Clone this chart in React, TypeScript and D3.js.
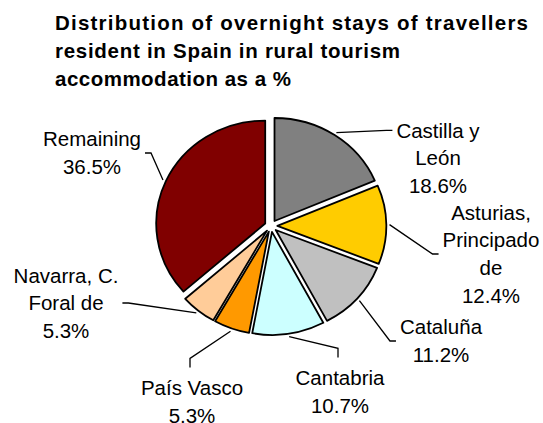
import React, { useEffect, useRef } from 'react';
import * as d3 from 'd3';

/* ── data ── */
const regions = ['Castilla y León', 'Asturias, Principado de', 'Cataluña', 'Cantabria', 'País Vasco', 'Navarra, C. Foral de', 'Remaining'];
const shares = [18.6, 12.4, 11.2, 10.7, 5.3, 5.3, 36.5];
const colours = ['#808080', '#FFCC00', '#C0C0C0', '#CCFFFF', '#FF9900', '#FFCC99', '#800000'];
const labelLines = [
  ['Castilla y', 'León'],
  ['Asturias,', 'Principado', 'de'],
  ['Cataluña'],
  ['Cantabria'],
  ['País Vasco'],
  ['Navarra, C.', 'Foral de'],
  ['Remaining'],
];
const titleLines = [
  'Distribution of overnight stays of travellers',
  'resident in Spain in rural tourism',
  'accommodation as a %',
];

/* ── layout (label block centres, side the leader enters from) ── */
const labelLayout = [
  { x: 438, y: 158, side: 'left', line: 0 },
  { x: 491, y: 254, side: 'left', line: -1 },
  { x: 441, y: 341, side: 'left', line: -1 },
  { x: 340, y: 392, side: 'top', line: -1 },
  { x: 192, y: 402, side: 'top', line: -1 },
  { x: 66, y: 303, side: 'right', line: -1 },
  { x: 92, y: 153, side: 'right', line: -1 },
];
const titleWidths = [473, 345, 236];

const W = 543, H = 423;
const CX = 271, CY = 226, RY = 103, RX = 109;
const EXPLODE = 6;
const FONT = '"Liberation Sans", Arial, Helvetica, sans-serif';
const FS = 20.5, LH = 27.6;

export default function App() {
  const ref = useRef<SVGSVGElement>(null);

  useEffect(() => {
    const svg = d3.select(ref.current);
    svg.selectAll('*').remove();

    /* title */
    const title = svg.append('g');
    titleLines.forEach((t, i) => {
      title.append('text')
        .attr('x', 55)
        .attr('y', 30 + i * 27.8)
        .attr('font-family', FONT)
        .attr('font-size', 20.5)
        .attr('font-weight', 700)
        .attr('textLength', titleWidths[i])
        .attr('lengthAdjust', 'spacing')
        .attr('fill', '#000')
        .text(t);
    });

    /* pie */
    const data = regions.map((name, i) => ({ name, value: shares[i], i }));
    const pie = d3.pie<any>().value(d => d.value).sort(null);
    const arcs = pie(data);
    const arc = d3.arc<any>().innerRadius(0).outerRadius(RY);
    const sx = RX / RY;

    const g = svg.append('g').attr('transform', `translate(${CX},${CY}) scale(${sx},1)`);
    g.selectAll('path')
      .data(arcs)
      .join('path')
      .attr('transform', d => {
        const a = (d.startAngle + d.endAngle) / 2;
        return `translate(${EXPLODE * Math.sin(a)},${-EXPLODE * Math.cos(a)})`;
      })
      .attr('d', arc)
      .attr('fill', d => colours[d.data.i])
      .attr('stroke', '#000')
      .attr('stroke-width', 1.8)
      .attr('stroke-linejoin', 'round')
      .attr('vector-effect', 'non-scaling-stroke');

    /* labels + leader lines */
    const fmt = d3.format('.1f');
    arcs.forEach((d, i) => {
      const L = labelLayout[i];
      const lines = [...labelLines[i], fmt(d.data.value) + '%'];
      const first = L.y - ((lines.length - 1) * LH) / 2 + 0.35 * FS;
      const tg = svg.append('g');
      lines.forEach((t, k) => {
        tg.append('text')
          .attr('x', L.x)
          .attr('y', first + k * LH)
          .attr('text-anchor', 'middle')
          .attr('font-family', FONT)
          .attr('font-size', FS)
          .attr('fill', '#000')
          .text(t);
      });
      const bb = (tg.node() as SVGGElement).getBBox();

      const a = (d.startAngle + d.endAngle) / 2;
      const rr = RY + EXPLODE + 3;
      const p0: [number, number] = [CX + rr * Math.sin(a) * sx, CY - rr * Math.cos(a)];
      // leader meets the block mid-height, or a given line of it
      const ly = L.line >= 0 ? first + L.line * LH - 0.35 * FS : L.y;
      let end: [number, number], elbow: [number, number];
      if (L.side === 'left') {
        end = [bb.x - 4, ly];
        elbow = [end[0] - 6, ly];
      } else if (L.side === 'right') {
        end = [bb.x + bb.width + 4, ly];
        elbow = [end[0] + 6, ly];
      } else {
        end = [L.x - 2, bb.y - 9];
        elbow = [end[0], end[1] - 9];
      }
      svg.append('path')
        .attr('d', d3.line()([p0, elbow, end]))
        .attr('fill', 'none')
        .attr('stroke', '#000')
        .attr('stroke-width', 1.3);
    });
  }, []);

  return (
    <svg
      ref={ref}
      width={W}
      height={H}
      style={{ position: 'absolute', left: 0, top: 0, background: '#fff', display: 'block' }}
    />
  );
}
